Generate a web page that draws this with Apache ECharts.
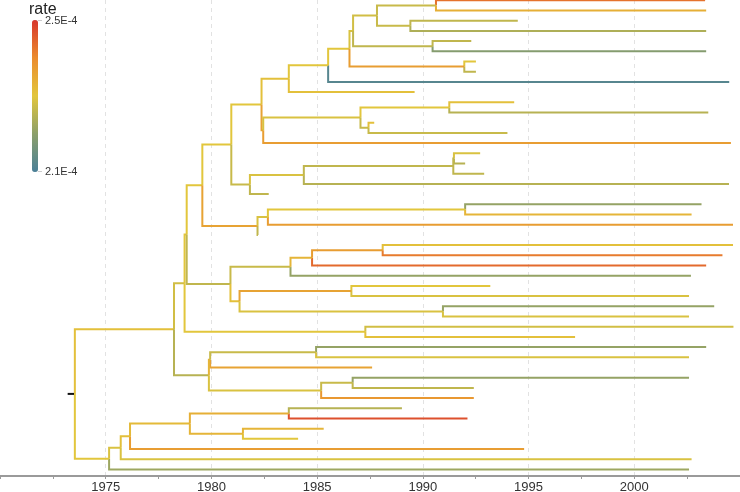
<!DOCTYPE html>
<html>
<head>
<meta charset="utf-8">
<script src="https://cdn.jsdelivr.net/npm/echarts@6/dist/echarts.min.js"></script>
<style>html,body{margin:0;padding:0;background:#fff;}#c{width:740px;height:492px;}</style>
</head>
<body>
<div id="c"></div>
<script>
// ---- tips (top to bottom) ----
const tipIds = ['t01','t02','t03','t04','t05','t06','t07','t08','t09','t10','t11','t12','t13','t14','t15','t16','t17','t18','t19','t20','t21','t22','t23','t24','t25','t26','t27','t28','t29','t30','t31','t32','t33','t34','t35','t36','t37','t38','t39','t40','t41','t42','t43','t44','t45','t46','t47'];
const tipParents = ['N1','N1','N2','N2','N4','N4','N7','N7','N8','N9','N12','N12','N13','N13','N11','B','B','A','N16','N15','E','E','D','C','N26','N26','N25','N23','N27','N27','N28','N28','N20','N20','N31','N31','N30a','N33','N33','N32','N38','N38','N39','N39','N36','N35','N34'];
const tipTimes = [2003.35,2003.40,1994.49,2003.40,1992.29,2003.40,1992.51,1992.51,2004.49,1989.61,1994.32,2003.50,1987.70,1994.00,2004.57,1992.71,1992.00,1992.90,2004.48,1982.71,2003.18,2002.71,2004.67,1982.20,2004.67,2004.17,2003.40,2002.68,1993.19,2002.59,2003.78,2002.59,2004.69,1997.20,2003.40,2002.59,1987.60,2002.59,1992.41,1992.41,1989.01,1992.11,1985.31,1984.10,1994.79,2002.71,2002.59];
const tipRates = [2.43e-4,2.34e-4,2.26e-4,2.24e-4,2.26e-4,2.19e-4,2.30e-4,2.26e-4,2.12e-4,2.31e-4,2.31e-4,2.25e-4,2.31e-4,2.27e-4,2.37e-4,2.29e-4,2.25e-4,2.26e-4,2.25e-4,2.26e-4,2.21e-4,2.33e-4,2.37e-4,2.26e-4,2.31e-4,2.42e-4,2.44e-4,2.21e-4,2.30e-4,2.29e-4,2.21e-4,2.29e-4,2.28e-4,2.31e-4,2.21e-4,2.29e-4,2.36e-4,2.21e-4,2.26e-4,2.38e-4,2.25e-4,2.47e-4,2.33e-4,2.30e-4,2.37e-4,2.29e-4,2.22e-4];

// ---- internal nodes ----
const nodeIds = ['root','N29','N34','N22','N30','N21','N20','N18','N19','N17','C','N14','N15','N9','N11','N8','N6','N5','N7','N3','N4','N1','N2','N10','N12','N13','N16','A','B','D','E','N23','N24','N25','N26','N27','N28','N30a','N31','N32','N33','N35','N36','N37','N38','N39'];
const nodeParents = [null,'root','root','N29','N29','N22','N22','N21','N21','N18','N18','N17','N17','N14','N14','N9','N8','N6','N6','N5','N5','N3','N3','N11','N10','N10','N15','N16','A','C','D','N19','N19','N23','N25','N24','N24','N30','N30a','N30','N32','N34','N35','N36','N37','N37'];
const nodeTimes = [1973.54,1978.23,1975.16,1978.73,1979.88,1978.83,1987.28,1979.57,1980.90,1980.94,1982.18,1982.37,1981.82,1983.66,1982.45,1985.52,1986.53,1986.70,1991.96,1987.83,1990.46,1990.62,1989.41,1987.05,1991.25,1987.43,1984.37,1991.44,1991.47,1982.67,1992.00,1983.74,1981.33,1984.76,1988.10,1986.62,1990.95,1979.94,1984.95,1985.19,1986.68,1975.71,1976.15,1978.98,1983.66,1981.49];
const nodeRates = [2.30e-4,2.31e-4,2.30e-4,2.28e-4,2.25e-4,2.30e-4,2.30e-4,2.30e-4,2.26e-4,2.30e-4,2.36e-4,2.30e-4,2.27e-4,2.31e-4,2.36e-4,2.30e-4,2.30e-4,2.29e-4,2.37e-4,2.28e-4,2.26e-4,2.27e-4,2.27e-4,2.29e-4,2.30e-4,2.27e-4,2.29e-4,2.26e-4,2.26e-4,2.29e-4,2.30e-4,2.27e-4,2.31e-4,2.33e-4,2.37e-4,2.36e-4,2.29e-4,2.33e-4,2.27e-4,2.29e-4,2.27e-4,2.29e-4,2.31e-4,2.32e-4,2.34e-4,2.33e-4];

const rootEdgeStart = 1973.2;
const tickYears = [1975, 1980, 1985, 1990, 1995, 2000];
const rateRange = [2.1e-4, 2.5e-4];
const rateLabels = ['2.5E-4', '2.1E-4'];

// ---- build tree layout ----
const ids = tipIds.concat(nodeIds);
const parents = tipParents.concat(nodeParents);
const times = tipTimes.concat(nodeTimes);
const rates = tipRates.concat(nodeRates);
const idx = {}; ids.forEach((id, i) => idx[id] = i);
const children = {}; ids.forEach(id => children[id] = []);
parents.forEach((p, i) => { if (p) children[p].push(ids[i]); });
const yPos = {};
tipIds.forEach((id, i) => yPos[id] = tipIds.length - i);
function getY(id) {
  if (yPos[id] !== undefined) return yPos[id];
  const ch = children[id];
  const v = ch.reduce((s, c) => s + getY(c), 0) / ch.length;
  yPos[id] = v; return v;
}
ids.forEach(getY);
const branches = [];
ids.forEach((id, i) => {
  const p = parents[i];
  if (!p) return;
  branches.push([times[idx[p]], yPos[p], times[i], yPos[id], rates[i]]);
});
const rootY = yPos['root'];

const FONT = 'Liberation Sans, Arial, sans-serif';
const chart = echarts.init(document.getElementById('c'), null, {renderer: 'canvas'});
chart.setOption({
  animation: false,
  textStyle: {fontFamily: FONT},
  grid: {left: 0, right: 0, top: 0, bottom: 16, containLabel: false, outerBoundsMode: 'none'},
  xAxis: {
    type: 'value', min: 1970, max: 2005, interval: 5,
    axisLine: {show: true, onZero: false, lineStyle: {color: '#9a9a9a', width: 2}},
    axisTick: {show: true, length: 3, lineStyle: {color: '#9a9a9a'}},
    minorTick: {show: true, splitNumber: 2, length: 3, lineStyle: {color: '#9a9a9a'}},
    axisLabel: {
      fontSize: 13, color: '#333', margin: 5, fontFamily: FONT,
      formatter: v => tickYears.indexOf(v) >= 0 ? String(v) : ''
    },
    splitLine: {show: true, showMinLine: false, showMaxLine: false, lineStyle: {type: [4, 4], color: '#e2e2e2', width: 1}}
  },
  yAxis: {type: 'value', min: 0.36, max: 47.03, show: false},
  visualMap: {
    type: 'continuous', min: rateRange[0], max: rateRange[1], dimension: 4, seriesIndex: 0,
    show: true, calculable: false, hoverLink: false, itemWidth: 6, itemHeight: 152,
    left: 32, top: 20, padding: 0,
    inRange: {color: ['#4a8098', '#8c9f6a', '#e2c63c', '#eb8c2e', '#d7362c']}
  },
  graphic: [
    {type: 'text', left: 29, top: 2, style: {text: 'rate', fontSize: 16, fill: '#222', fontFamily: FONT}},
    {type: 'text', x: 45, y: 21, style: {text: rateLabels[0], fontSize: 11, fill: '#333', verticalAlign: 'middle', fontFamily: FONT}},
    {type: 'text', x: 45, y: 172, style: {text: rateLabels[1], fontSize: 11, fill: '#333', verticalAlign: 'middle', fontFamily: FONT}},
    {type: 'line', shape: {x1: 38, y1: 20.5, x2: 42, y2: 20.5}, style: {stroke: '#ccc', lineWidth: 1}},
    {type: 'line', shape: {x1: 38, y1: 171.5, x2: 42, y2: 171.5}, style: {stroke: '#ccc', lineWidth: 1}}
  ],
  series: [
    {
      type: 'custom', clip: false, data: branches, encode: {x: [0, 2], y: [1, 3]},
      renderItem: function (params, api) {
        const a = api.coord([api.value(0), api.value(1)]);
        const b = api.coord([api.value(0), api.value(3)]);
        const c = api.coord([api.value(2), api.value(3)]);
        return {type: 'polyline', shape: {points: [a, b, c]}, style: {stroke: api.visual('color'), fill: null, lineWidth: 2}};
      }
    },
    {
      type: 'line', symbol: 'none', silent: true,
      data: [[rootEdgeStart, rootY], [nodeTimes[0] - 0.04, rootY]],
      lineStyle: {color: '#111', width: 2}
    }
  ]
});
</script>
</body>
</html>
